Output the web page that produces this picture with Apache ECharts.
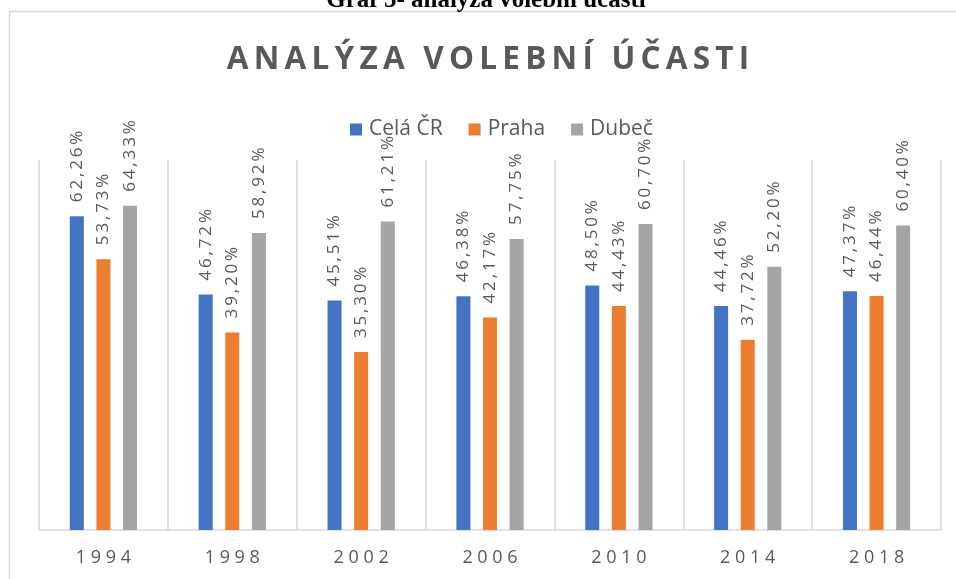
<!DOCTYPE html>
<html>
<head>
<meta charset="utf-8">
<script src="https://cdn.jsdelivr.net/npm/echarts@6/dist/echarts.min.js"></script>
<style>
    html, body { margin: 0; padding: 0; background: #fff; }
    #chart { width: 956px; height: 579px; }
</style>
</head>
<body>
<div id="chart"></div>
<script>
const years = ["1994", "1998", "2002", "2006", "2010", "2014", "2018"];
const celaCr = [62.26, 46.72, 45.51, 46.38, 48.50, 44.46, 47.37];
const praha = [53.73, 39.20, 35.30, 42.17, 44.43, 37.72, 46.44];
const dubec = [64.33, 58.92, 61.21, 57.75, 60.70, 52.20, 60.40];

const seriesNames = ["Celá ČR", "Praha", "Dubeč"];
const seriesColors = ["#4472C4", "#ED7D31", "#A5A5A5"];

const textGrey = "#595959";
const lineGrey = "#d9d9d9";
const font = "'Open Sans', sans-serif";

// Excel letter spacing, faked with thin spaces
const spaced = (text, gap = "\u2009") => text.split("").join(gap);

const percentLabel = params => spaced(params.value.toFixed(2).replace(".", ",") + "%");

const chart = echarts.init(document.getElementById("chart"));

function barSeries(name, data, color) {
    return {
        name,
        type: "bar",
        barWidth: 14,
        barGap: "90%",
        itemStyle: {
            color
        },
        label: {
            show: true,
            position: "top",
            distance: 14,
            rotate: 90,
            align: "left",
            verticalAlign: "middle",
            color: textGrey,
            fontFamily: font,
            fontSize: 17,
            formatter: percentLabel
        },
        data
    };
}

chart.setOption({
    animation: false,
    textStyle: {
        fontFamily: font
    },
    title: {
        text: spaced("ANALÝZA VOLEBNÍ ÚČASTI"),
        left: 483,
        textAlign: "center",
        top: 39,
        textStyle: {
            color: textGrey,
            fontFamily: font,
            fontWeight: "bold",
            fontSize: 31.5
        }
    },
    legend: {
        top: 114,
        left: 345,
        icon: "rect",
        itemWidth: 12,
        itemHeight: 12,
        itemGap: 26,
        textStyle: {
            color: textGrey,
            fontFamily: font,
            fontSize: 21,
            padding: [0, 0, 0, 2]
        },
        data: seriesNames
    },
    grid: {
        left: 39,
        right: 15,
        top: 160,
        bottom: 49
    },
    xAxis: {
        type: "category",
        data: years,
        axisLine: {
            lineStyle: {
                color: lineGrey,
                width: 1.5
            }
        },
        axisTick: {
            show: false
        },
        splitLine: {
            show: true,
            lineStyle: {
                color: lineGrey,
                width: 1.5
            }
        },
        axisLabel: {
            color: textGrey,
            fontFamily: font,
            fontSize: 18,
            margin: 19,
            formatter: value => spaced(value, " ")
        }
    },
    yAxis: {
        type: "value",
        min: 0,
        max: 73.4,
        show: false,
        splitLine: {
            show: false
        }
    },
    graphic: [
        {
            type: "rect",
            silent: true,
            shape: { x: 9.5, y: 11.5, width: 1200, height: 1200 },
            style: { fill: "none", stroke: lineGrey, lineWidth: 1.5 }
        },
        {
            type: "text",
            silent: true,
            x: 486,
            y: 13,
            style: {
                text: "Graf 5- analýza volební účasti",
                fill: "#000",
                font: "bold 25px 'Liberation Serif', serif",
                textAlign: "center",
                textVerticalAlign: "bottom"
            }
        }
    ],
    series: [
        barSeries(seriesNames[0], celaCr, seriesColors[0]),
        barSeries(seriesNames[1], praha, seriesColors[1]),
        barSeries(seriesNames[2], dubec, seriesColors[2])
    ]
});
</script>
</body>
</html>
